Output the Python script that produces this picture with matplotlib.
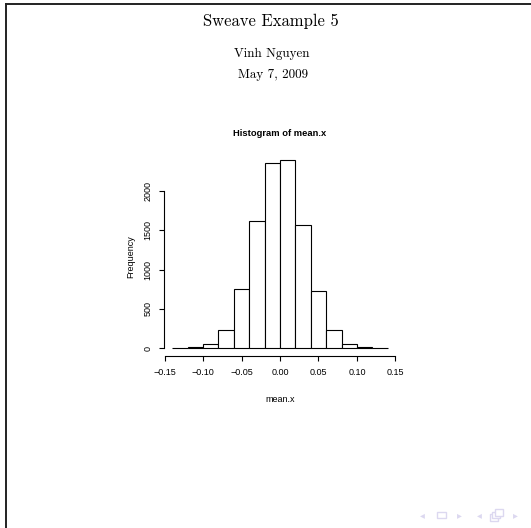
import matplotlib
matplotlib.use("Agg")
import matplotlib.pyplot as plt
import matplotlib.patches as mpatches
from matplotlib.lines import Line2D
import numpy as np

# ---- data ----
bin_edges = [-0.14, -0.12, -0.10, -0.08, -0.06, -0.04, -0.02, 0.00,
             0.02, 0.04, 0.06, 0.08, 0.10, 0.12, 0.14]
counts = [2, 13, 51, 237, 755, 1616, 2361, 2399, 1573, 733, 237, 51, 13, 2]
x_ticks = [-0.15, -0.10, -0.05, 0.00, 0.05, 0.10, 0.15]
x_tick_labels = ["\u22120.15", "\u22120.10", "\u22120.05", "0.00", "0.05", "0.10", "0.15"]
y_ticks = [0, 500, 1000, 1500, 2000]
y_tick_labels = ["0", "500", "1000", "1500", "2000"]

slide_title = "Sweave Example 5"
author = "Vinh Nguyen"
date = "May 7, 2009"

W, H = 531, 528
fig = plt.figure(figsize=(W / 100, H / 100), dpi=100)
fig.patch.set_facecolor("white")

def fx(px):
    return px / W

def fy(py):
    return 1 - py / H

# slide frame lines
fig.add_artist(Line2D([fx(6), fx(531)], [fy(3.5), fy(3.5)], color="#222222", lw=1.4))
fig.add_artist(Line2D([fx(6), fx(6)], [fy(3.5), fy(528)], color="#222222", lw=1.4))

# slide header text (Computer Modern)
fig.text(fx(270.5), fy(21.5), slide_title, ha="center", va="center", family="cmr10", fontsize=12)
fig.text(fx(272), fy(54), author, ha="center", va="center", family="cmr10", fontsize=9.4)
fig.text(fx(272.5), fy(75), date, ha="center", va="center", family="cmr10", fontsize=9.4)

# histogram axes
left, right = 163.6, 396.4
top, bottom = 152.2, 355.8
ax = fig.add_axes([fx(left), fy(bottom), fx(right - left), (bottom - top) / H])
edges = np.array(bin_edges)
widths = np.diff(edges)
ax.bar(edges[:-1], counts, width=widths, align="edge", facecolor="white",
       edgecolor="black", linewidth=0.8)

xr = edges[-1] - edges[0]
ax.set_xlim(edges[0] - 0.04 * xr, edges[-1] + 0.04 * xr)
ymax = max(counts)
ax.set_ylim(-0.04 * ymax, ymax * 1.04)

for s in ["top", "right"]:
    ax.spines[s].set_visible(False)
ax.spines["left"].set_bounds(y_ticks[0], y_ticks[-1])
ax.spines["bottom"].set_bounds(x_ticks[0], x_ticks[-1])
ax.spines["left"].set_linewidth(0.8)
ax.spines["bottom"].set_linewidth(0.8)

ax.set_xticks(x_ticks)
ax.set_xticklabels(x_tick_labels, family="Liberation Sans", fontsize=6.5)
ax.set_yticks(y_ticks)
ax.set_yticklabels(y_tick_labels, family="Liberation Sans", fontsize=6.5,
                   rotation=90, va="center")
ax.tick_params(axis="x", direction="out", length=3.6, width=0.8, pad=5)
ax.tick_params(axis="y", direction="out", length=3.6, width=0.8, pad=4.5)

fig.text(0.5 * (fx(left) + fx(right)), fy(133.3), "Histogram of mean.x",
         ha="center", va="center", family="Liberation Sans", fontweight="bold",
         fontsize=6.75)
fig.text(0.5 * (fx(left) + fx(right)), fy(400), "mean.x", ha="center", va="center",
         family="Liberation Sans", fontsize=6.5)
fig.text(fx(130.7), fy(256.7), "Frequency", ha="center", va="center", rotation=90,
         family="Liberation Sans", fontsize=6.5)

# beamer navigation symbols
nav_col = "#dcd8f0"
for px, sym in [(422.7, "\u25C2"), (459.3, "\u25B8"), (479.0, "\u25C2"), (515.7, "\u25B8")]:
    fig.text(fx(px), fy(515), sym, ha="center", va="center", color=nav_col,
             family="DejaVu Sans", fontsize=7)
fig.add_artist(mpatches.Rectangle((fx(437), fy(518.3)), fx(9), 6 / H, fill=False,
                                  edgecolor=nav_col, lw=1.0))
for dx, dy in [(0, 0), (2.5, -2.5), (5, -5)]:
    fig.add_artist(mpatches.Rectangle((fx(489.5 + dx), fy(520.5 + dy)), fx(8), 6.5 / H,
                                      facecolor="white", edgecolor=nav_col, lw=1.0))

fig.savefig("out.png", dpi=100, facecolor="white")
